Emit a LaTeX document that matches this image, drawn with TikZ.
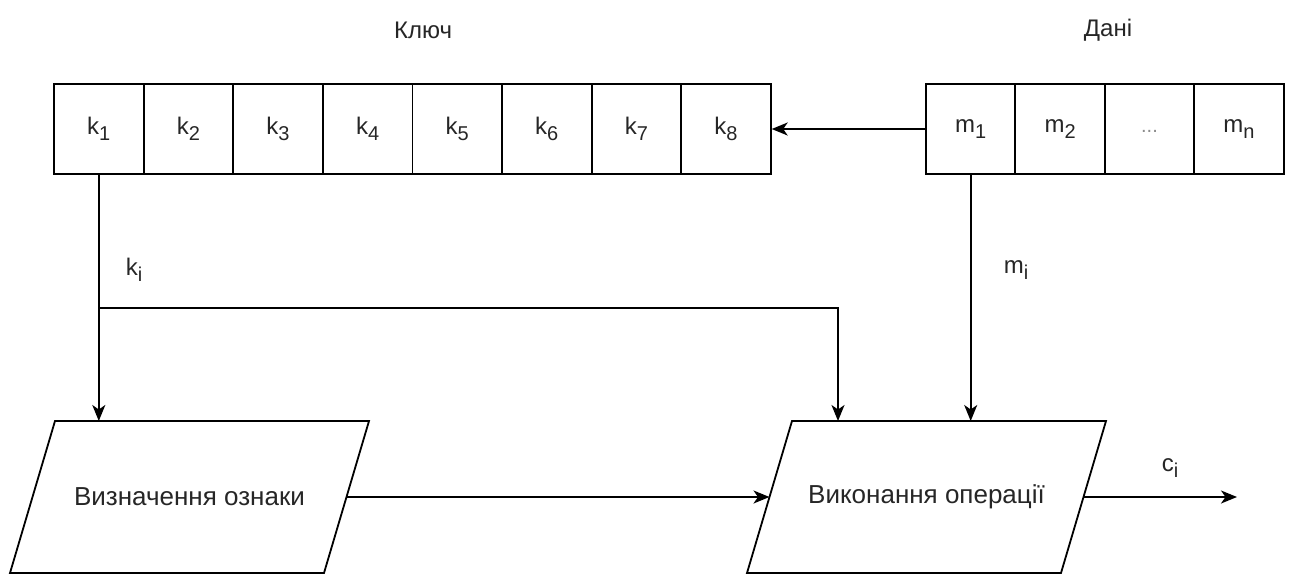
\documentclass[tikz,border=0pt]{standalone}
\usepackage{fontspec}
\setmainfont{Liberation Sans}
\usetikzlibrary{arrows.meta,calc}

% lowered, smaller index as used in the cell labels
\newcommand\lowidx[1]{\raisebox{-0.26em}{\fontsize{20}{20}\selectfont #1}}

\begin{document}
\begin{tikzpicture}[x=1pt,y=-1pt,
  every node/.style={text=black!85},
  cell/.style={draw=black, line width=1.8pt, minimum width=89.6pt, minimum height=90pt,
               inner sep=0pt, font=\fontsize{24}{28}\selectfont},
  lbl/.style={inner sep=0pt, font=\fontsize{24}{28}\selectfont},
  ptxt/.style={inner sep=0pt, font=\fontsize{26}{30}\selectfont},
  pbox/.style={draw=black, line width=1.8pt},
  arr/.style={draw=black, line width=1.8pt, -{Stealth[length=16pt,width=13pt,inset=4.5pt]}}
]
\useasboundingbox (0,0) rectangle (1291,576);

% titles
\node[lbl] (tkey) at (423,30) {Ключ};
\node[lbl] (tdata) at (1108,30) {Дані};

% key register
\node[cell] (k1) at (98.8,129) {k\lowidx{1}};
\node[cell] (k2) at (188.4,129) {k\lowidx{2}};
\node[cell] (k3) at (278.0,129) {k\lowidx{3}};
\node[cell] (k4) at (367.6,129) {k\lowidx{4}};
\node[cell] (k5) at (457.2,129) {k\lowidx{5}};
\node[cell] (k6) at (546.8,129) {k\lowidx{6}};
\node[cell] (k7) at (636.4,129) {k\lowidx{7}};
\node[cell] (k8) at (726.0,129) {k\lowidx{8}};

% data register
\node[cell] (m1) at (970.7,129) {m\lowidx{1}};
\node[cell] (m2) at (1060.1,129) {m\lowidx{2}};
\node[cell, text=black!45] (m3) at (1149.5,129) {\lowidx{...}};
\node[cell] (mn) at (1238.9,129) {m\lowidx{n}};

% processing blocks (parallelograms drawn around their text)
\node[ptxt] (p1) at (189.5,497) {Визначення ознаки};
\node[ptxt] (p2) at (926.5,497) {Виконання операції};
\draw[pbox] ($(p1)+(-134.5,-76)$) -- ($(p1)+(179.5,-76)$) -- ($(p1)+(134.5,76)$)
            -- ($(p1)+(-179.5,76)$) -- cycle;
\draw[pbox] ($(p2)+(-134.5,-76)$) -- ($(p2)+(179.5,-76)$) -- ($(p2)+(134.5,76)$)
            -- ($(p2)+(-179.5,76)$) -- cycle;

% attachment points on the block borders
\coordinate (p1n) at ($(p1)+(0,-76)$);
\coordinate (p2n) at ($(p2)+(0,-76)$);
\coordinate (p1e) at ($(p1)+(157,0)$);
\coordinate (p2w) at ($(p2)+(-157,0)$);
\coordinate (p2e) at ($(p2)+(157,0)$);
\coordinate (kj) at (838,308);
\coordinate (cout) at (1237,497);

% connectors
\draw[arr] (m1.west) -- (k8.east);
\draw[arr] (k1.south) -- (k1.south |- p1n);
\draw[arr] (k1.south) |- (kj) -- (kj |- p2n);
\draw[arr] (m1.south) -- (m1.south |- p2n);
\draw[arr] (p1e) -- (p2w);
\draw[arr] (p2e) -- (cout);

% connector labels
\node[lbl] (lki) at (134,270) {k\lowidx{i}};
\node[lbl] (lmi) at (1016,270) {m\lowidx{i}};
\node[lbl] (lci) at (1170,468) {c\lowidx{i}};
\end{tikzpicture}
\end{document}
